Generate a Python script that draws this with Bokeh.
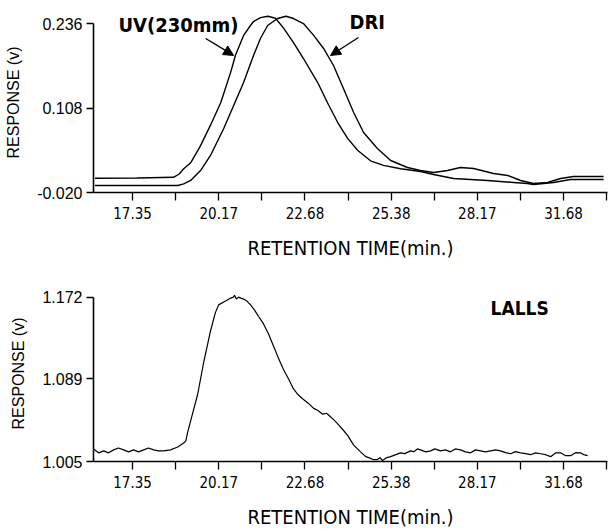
from bokeh.plotting import figure
from bokeh.layouts import column
from bokeh.models import Range1d, FixedTicker, PrintfTickFormatter, Label, Arrow, NormalHead
from bokeh.embed import file_html
from bokeh.resources import INLINE

# ---- retention-time axis -------------------------------------------------
tick_labels = ["17.35", "20.17", "22.68", "25.38", "28.17", "31.68"]

# ---- UV (230 nm) detector trace -------------------------------------------
uv_time = [16.10, 17.50, 18.71, 18.90, 19.05, 19.28, 19.61, 19.94, 20.28, 20.61,
           20.77, 21.04, 21.27, 21.37, 21.60, 21.85, 22.10, 22.37, 22.70, 23.03,
           23.50, 23.83, 24.17, 24.50, 24.83, 25.26, 25.69, 26.26, 26.92, 27.36,
           28.02, 29.15, 30.02, 30.48, 30.68, 31.35, 31.91, 33.01]
uv_resp = [0.0017, 0.0020, 0.0030, 0.0080, 0.0160, 0.0250, 0.0510, 0.0820, 0.1160, 0.1620,
           0.1880, 0.2180, 0.2330, 0.2390, 0.2450, 0.2470, 0.2440, 0.2290, 0.2070, 0.1830,
           0.1470, 0.1160, 0.0860, 0.0620, 0.0440, 0.0280, 0.0210, 0.0160, 0.0118, 0.0073,
           0.0012, -0.0018, -0.0048, -0.0064, -0.0079, -0.0048, -0.0003, -0.0003]

# ---- DRI detector trace ----------------------------------------------------
dri_time = [16.10, 18.85, 19.05, 19.28, 19.61, 19.94, 20.38, 20.71, 21.04, 21.37,
            21.60, 21.84, 22.17, 22.45, 22.70, 23.03, 23.37, 23.70, 24.03, 24.36,
            24.70, 25.03, 25.49, 25.93, 26.49, 26.92, 27.36, 27.82, 28.25, 28.69,
            29.35, 29.82, 30.25, 30.68, 31.15, 31.58, 32.01, 33.01]
dri_resp = [-0.0094, -0.0094, -0.0070, -0.0018, 0.0133, 0.0361, 0.0770, 0.1118, 0.1467, 0.1876,
            0.2133, 0.2330, 0.2436, 0.2470, 0.2436, 0.2360, 0.2180, 0.1982, 0.1724, 0.1376,
            0.1012, 0.0709, 0.0467, 0.0285, 0.0179, 0.0133, 0.0103, 0.0133, 0.0179, 0.0164,
            0.0088, 0.0058, -0.0018, -0.0064, -0.0048, 0.0012, 0.0042, 0.0042]

# ---- LALLS detector trace --------------------------------------------------
lalls_time = [16.05, 16.22, 16.39, 16.55, 16.72, 16.88, 17.05, 17.22, 17.38, 17.55,
              17.72, 17.88, 18.05, 18.21, 18.38, 18.61, 18.85, 19.05, 19.12, 19.18,
              19.28, 19.51, 19.71, 19.94, 20.10, 20.21, 20.38, 20.50, 20.61, 20.70,
              20.74, 20.80, 20.87, 20.95, 21.04, 21.15, 21.27, 21.40, 21.54, 21.70,
              21.87, 22.04, 22.20, 22.37, 22.55, 22.70, 22.85, 23.00, 23.20, 23.37,
              23.50, 23.67, 23.80, 23.90, 24.05, 24.17, 24.35, 24.50, 24.70, 24.93,
              25.10, 25.20, 25.35, 25.49, 25.58, 25.66, 25.80, 25.93, 26.10, 26.26,
              26.40, 26.59, 26.70, 26.82, 26.92, 27.10, 27.26, 27.40, 27.59, 27.75,
              27.92, 28.08, 28.25, 28.42, 28.59, 28.75, 28.92, 29.08, 29.25, 29.42,
              29.58, 29.75, 29.92, 30.08, 30.25, 30.42, 30.58, 30.75, 30.92, 31.08,
              31.25, 31.42, 31.58, 31.75, 31.91, 32.08, 32.24, 32.35, 32.48]
lalls_resp = [1.0178, 1.0138, 1.0158, 1.0138, 1.0168, 1.0187, 1.0168, 1.0148, 1.0168, 1.0148,
              1.0168, 1.0187, 1.0168, 1.0158, 1.0158, 1.0168, 1.0197, 1.0237, 1.0260, 1.0345,
              1.0462, 1.0728, 1.1052, 1.1376, 1.1560, 1.1641, 1.1670, 1.1690, 1.1710, 1.1720,
              1.1739, 1.1700, 1.1720, 1.1710, 1.1700, 1.1680, 1.1641, 1.1590, 1.1523, 1.1450,
              1.1346, 1.1219, 1.1100, 1.0983, 1.0880, 1.0787, 1.0730, 1.0688, 1.0640, 1.0590,
              1.0570, 1.0531, 1.0540, 1.0512, 1.0470, 1.0433, 1.0370, 1.0315, 1.0217, 1.0148,
              1.0100, 1.0089, 1.0070, 1.0070, 1.0090, 1.0060, 1.0090, 1.0099, 1.0120, 1.0138,
              1.0130, 1.0158, 1.0150, 1.0178, 1.0168, 1.0148, 1.0158, 1.0178, 1.0158, 1.0168,
              1.0148, 1.0178, 1.0168, 1.0148, 1.0138, 1.0168, 1.0158, 1.0148, 1.0158, 1.0168,
              1.0158, 1.0140, 1.0129, 1.0150, 1.0138, 1.0130, 1.0119, 1.0138, 1.0129, 1.0119,
              1.0099, 1.0138, 1.0138, 1.0109, 1.0109, 1.0140, 1.0138, 1.0120, 1.0109]

top_yticks = [-0.020, 0.108, 0.236]
bottom_yticks = [1.005, 1.089, 1.172]

NARROW = "DejaVu Sans Condensed"
REGULAR = "Liberation Sans"

# evenly spaced divisions; every other one carries a label
step = (31.68 - 17.35) / 10
all_ticks = [round(17.35 + step * k, 4) for k in range(12)]
major_ticks = all_ticks[0:11:2]
minor_ticks = all_ticks[1::2]
x_overrides = {t: lbl for t, lbl in zip(major_ticks, tick_labels)}


def panel(height, border_top, border_bottom, y_lo, y_hi, yticks):
    p = figure(width=608, height=height,
               x_range=Range1d(16.05, 33.14), y_range=Range1d(y_lo, y_hi),
               output_backend="svg", toolbar_location=None,
               min_border_left=93, min_border_right=1,
               min_border_top=border_top, min_border_bottom=border_bottom)
    p.outline_line_color = None
    p.grid.visible = False
    p.background_fill_color = "white"
    p.border_fill_color = "white"

    xa = p.xaxis[0]
    xa.ticker = FixedTicker(ticks=major_ticks, minor_ticks=minor_ticks)
    xa.major_label_overrides = x_overrides
    xa.axis_label = "RETENTION TIME(min.)"
    xa.axis_label_text_font = NARROW
    xa.axis_label_text_font_size = "20px"
    xa.axis_label_text_font_style = "normal"
    xa.axis_label_text_color = "black"
    xa.axis_label_standoff = 14
    xa.major_label_text_font = NARROW
    xa.major_label_text_font_size = "15px"
    xa.major_label_text_color = "black"
    xa.major_label_standoff = 6
    xa.major_tick_in = 0
    xa.major_tick_out = 8
    xa.minor_tick_in = 0
    xa.minor_tick_out = 8
    xa.axis_line_width = 1.6
    xa.major_tick_line_width = 1.3
    xa.minor_tick_line_width = 1.3
    xa.axis_line_color = "black"
    xa.major_tick_line_color = "black"
    xa.minor_tick_line_color = "black"

    ya = p.yaxis[0]
    ya.ticker = FixedTicker(ticks=yticks, minor_ticks=[])
    ya.formatter = PrintfTickFormatter(format="%.3f")
    ya.bounds = (yticks[0], yticks[-1])
    ya.axis_label = "RESPONSE (v)"
    ya.axis_label_text_font = REGULAR
    ya.axis_label_text_font_size = "16px"
    ya.axis_label_text_font_style = "normal"
    ya.axis_label_text_color = "black"
    ya.axis_label_standoff = 12
    ya.major_label_text_font = REGULAR
    ya.major_label_text_font_size = "16px"
    ya.major_label_text_color = "black"
    ya.major_label_standoff = 4
    ya.major_tick_in = 0
    ya.major_tick_out = 7
    ya.minor_tick_line_color = None
    ya.axis_line_width = 1.6
    ya.major_tick_line_width = 1.3
    ya.axis_line_color = "black"
    ya.major_tick_line_color = "black"
    return p


# ---- upper panel: UV and DRI ---------------------------------------------
top = panel(262, 12, 70, -0.020, 0.2527, top_yticks)
top.line(uv_time, uv_resp, line_color="black", line_width=1.4)
top.line(dri_time, dri_resp, line_color="black", line_width=1.4)

for txt, xx, yy in [("UV(230mm)", 16.88, 0.2345), ("DRI", 24.56, 0.2376)]:
    top.add_layout(Label(x=xx, y=yy, text=txt, text_font=NARROW, text_font_style="bold",
                         text_font_size="20px", text_baseline="middle", text_align="left",
                         text_color="black"))

head = dict(size=10, fill_color="black", line_color="black", line_width=1)
top.add_layout(Arrow(end=NormalHead(**head), x_start=19.78, y_start=0.2133,
                     x_end=20.71, y_end=0.1876, line_width=1.4, line_color="black"))
top.add_layout(Arrow(end=NormalHead(**head), x_start=24.86, y_start=0.2148,
                     x_end=23.93, y_end=0.1876, line_width=1.4, line_color="black"))

# ---- lower panel: LALLS ---------------------------------------------------
bottom = panel(269, 23, 64, 1.005, 1.1838, bottom_yticks)
bottom.line(lalls_time, lalls_resp, line_color="black", line_width=1.2)
bottom.add_layout(Label(x=29.25, y=1.1611, text="LALLS", text_font=NARROW, text_font_style="bold",
                        text_font_size="19px", text_baseline="middle", text_align="left",
                        text_color="black"))

layout = column(top, bottom, spacing=0)
open("out.html", "w").write(file_html(layout, INLINE))
